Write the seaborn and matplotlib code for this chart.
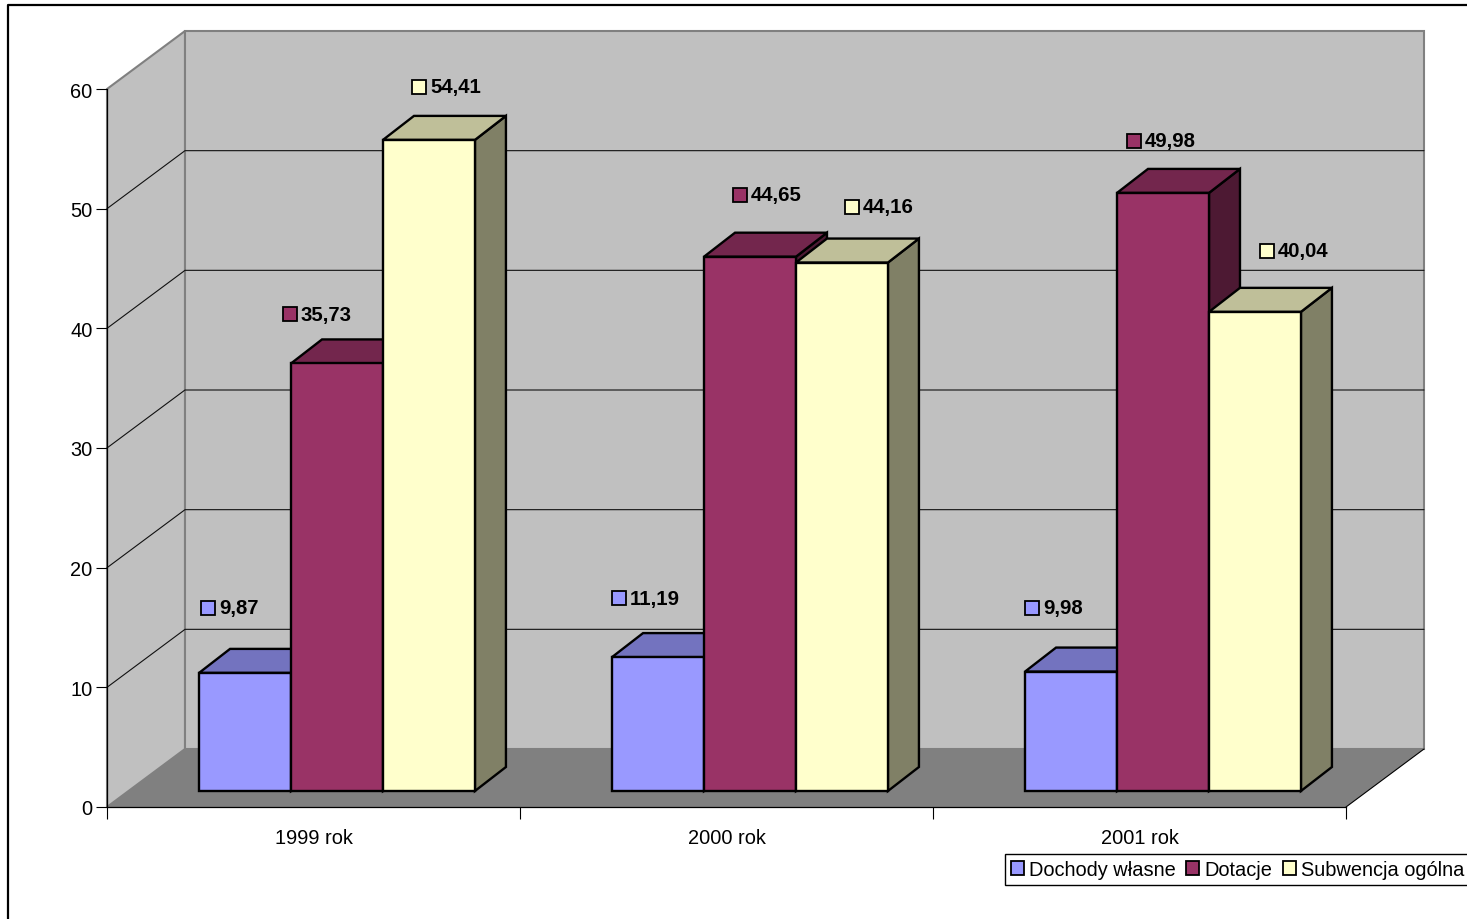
import seaborn as sns
import pandas as pd
import matplotlib.pyplot as plt
from matplotlib.lines import Line2D
from matplotlib.patches import Patch, Polygon

years = ["1999 rok", "2000 rok", "2001 rok"]
series = ["Dochody własne", "Dotacje", "Subwencja ogólna"]
dochody = [9.87, 11.19, 9.98]
dotacje = [35.73, 44.65, 49.98]
subwencja = [54.41, 44.16, 40.04]
y_ticks = [0, 10, 20, 30, 40, 50, 60]

# front, top (3/4) and side (1/2) shades of each series
colors = ["#9999FF", "#993366", "#FFFFCC"]
top_colors = ["#7373BF", "#73264D", "#BFBF99"]
side_colors = ["#4D4D80", "#4D1933", "#808066"]

# where excel put the data labels, pixels from the bar's front top left corner
label_dx = [[9, 7, 7], [-1, 36, 17], [36, 56, 58]]
label_dy = [[65, 59, 64], [49, 62, 52], [53, 56, 61]]

W, H = 1467, 920
LEFT, RIGHT, TOP, BOTTOM = 107, 1346, 90, 808
PX_X = 3 / (RIGHT - LEFT)
PX_Y = 60 / (BOTTOM - TOP)
# depth of the box, shift of the bars into it, depth of one bar
box_dx, box_dy = 78 * PX_X, 58 * PX_Y
shift_x, shift_y = 23.5 * PX_X, 16 * PX_Y
bar_dx, bar_dy = 31 * PX_X, 24 * PX_Y
BLACK_LW = 1.7

sns.set_style("white")
plt.rcParams["font.family"] = ["Liberation Sans", "DejaVu Sans"]
plt.rcParams["font.size"] = 14.4
plt.rcParams["text.color"] = "black"
plt.rcParams["xtick.labelcolor"] = "black"
plt.rcParams["ytick.labelcolor"] = "black"

df = pd.DataFrame({
    "year": years * 3,
    "series": [s for s in series for _ in years],
    "value": dochody + dotacje + subwencja,
})

fig = plt.figure(figsize=(W / 100, H / 100), dpi=100, facecolor="white")
ax = fig.add_axes([LEFT / W, (H - BOTTOM) / H, (RIGHT - LEFT) / W, (BOTTOM - TOP) / H])

sns.barplot(data=df, x="year", y="value", hue="series", hue_order=series, order=years,
            palette=colors, saturation=1, width=0.668, gap=0, edgecolor="black",
            linewidth=BLACK_LW, legend=False, ax=ax)

ax.set_xlim(-0.5, 2.5)
ax.set_ylim(0, 60)
ax.set_xlabel("")
ax.set_ylabel("")
ax.patch.set_visible(False)
for s in ["top", "right"]:
    ax.spines[s].set_visible(False)
for s in ["left", "bottom"]:
    ax.spines[s].set_linewidth(0.9)
    ax.spines[s].set_color("black")
    ax.spines[s].set_zorder(1.5)

ax.set_yticks(y_ticks)
ax.tick_params(axis="y", length=8, width=0.8, pad=2.5, left=True, labelsize=14.4, color="black")
ax.set_xticks(range(3))
ax.set_xticklabels(years)
ax.tick_params(axis="x", which="major", length=0, pad=15, labelsize=14.4)
ax.set_xticks([-0.5, 0.5, 1.5, 2.5], minor=True)
ax.tick_params(axis="x", which="minor", length=8.5, width=0.8, bottom=True, color="black")

# walls and floor
x0, x1 = -0.5, 2.5
wall_kw = dict(clip_on=False, zorder=0.5)
ax.add_patch(Polygon([(x0, 0), (x0 + box_dx, box_dy), (x1 + box_dx, box_dy), (x1, 0)],
                     facecolor="#808080", edgecolor="none", **wall_kw))
ax.add_patch(Polygon([(x0, 0), (x0, 60), (x0 + box_dx, 60 + box_dy), (x0 + box_dx, box_dy)],
                     facecolor="#C0C0C0", edgecolor="#808080", linewidth=1.5, **wall_kw))
ax.add_patch(Polygon([(x0 + box_dx, box_dy), (x0 + box_dx, 60 + box_dy),
                      (x1 + box_dx, 60 + box_dy), (x1 + box_dx, box_dy)],
                     facecolor="#C0C0C0", edgecolor="#808080", linewidth=1.5, **wall_kw))
ax.plot([x1, x1 + box_dx], [0, box_dy], color="black", lw=0.8, clip_on=False, zorder=0.7)
for t in y_ticks[1:-1]:
    ax.plot([x0, x0 + box_dx, x1 + box_dx], [t, t + box_dy, t + box_dy],
            color="#111111", lw=0.8, clip_on=False, zorder=0.6)

# turn the flat bars into boxes, left to right so later ones cover earlier side faces
z = 2
bars = []
for i, cont in enumerate(ax.containers):
    for j, rect in enumerate(cont):
        bars.append((rect.get_x(), i, j, rect))
for x, i, j, rect in sorted(bars, key=lambda b: b[0]):
    w, h = rect.get_width(), rect.get_height()
    fx, fy = x + shift_x, shift_y
    rect.set_x(fx)
    rect.set_y(fy)
    rect.set_clip_on(False)
    edge = dict(edgecolor="black", linewidth=BLACK_LW, joinstyle="miter", clip_on=False)
    ax.add_patch(Polygon([(fx + w, fy), (fx + w + bar_dx, fy + bar_dy),
                          (fx + w + bar_dx, fy + h + bar_dy), (fx + w, fy + h)],
                         facecolor=side_colors[i], zorder=z, **edge))
    ax.add_patch(Polygon([(fx, fy + h), (fx + bar_dx, fy + h + bar_dy),
                          (fx + w + bar_dx, fy + h + bar_dy), (fx + w, fy + h)],
                         facecolor=top_colors[i], zorder=z + 0.1, **edge))
    rect.set_zorder(z + 0.2)
    z += 1

    # label with its little legend key
    mx = fx + label_dx[i][j] * PX_X
    my = fy + h + label_dy[i][j] * PX_Y
    ax.plot([mx], [my], marker="s", ms=9.5, mfc=colors[i], mec="black", mew=1.3,
            clip_on=False, zorder=50)
    ax.text(mx + 11 * PX_X, my, f"{h:.2f}".replace(".", ","), fontweight="bold",
            fontsize=14.7, va="center", ha="left", zorder=50)

handles = [Patch(facecolor=c, edgecolor="black", linewidth=1.3) for c in colors]
fig.legend(handles, series, ncol=3, loc="lower left", bbox_to_anchor=(1005 / W, (H - 885.5) / H),
           borderaxespad=0, frameon=True, fancybox=False, framealpha=1, edgecolor="black",
           fontsize=14.4, handlelength=0.65, handleheight=0.65, handletextpad=0.25,
           columnspacing=0.55, borderpad=0.28, labelspacing=0, labelcolor="black")

# chart frame, only top and left fall inside the image
fig.add_artist(Line2D([7.5 / W, 7.5 / W, 1], [0, (H - 5.5) / H, (H - 5.5) / H], color="black", lw=1.6))

fig.savefig("out.png", dpi=100)
